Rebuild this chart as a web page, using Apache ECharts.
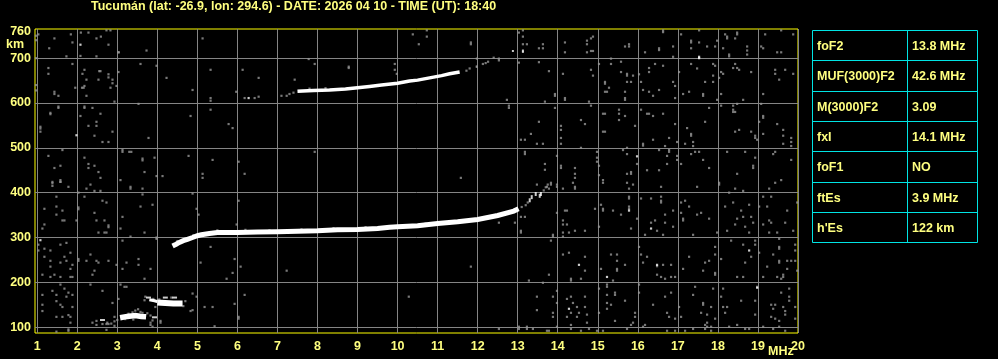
<!DOCTYPE html>
<html><head><meta charset="utf-8">
<script src="https://cdn.jsdelivr.net/npm/echarts@6/dist/echarts.min.js"></script>
<style>html,body{margin:0;padding:0;background:#000;}#c{width:998px;height:359px;}</style>
</head><body><div id="c"></div>
<script>
const titleText = 'Tucumán (lat: -26.9, lon: 294.6) - DATE: 2026 04 10 - TIME (UT): 18:40';
const freqLabels = [1,2,3,4,5,6,7,8,9,10,11,12,13,14,15,16,17,18,19,20];
const heightLabels = [100,200,300,400,500,600,700,760];
const heightGrid = [100,200,300,400,500,600,700];
const tableLabels = ['foF2','MUF(3000)F2','M(3000)F2','fxI','foF1','ftEs',"h'Es"];
const tableValues = ['13.8 MHz','42.6 MHz','3.09','14.1 MHz','NO','3.9 MHz','122 km'];

// F-layer trace (MHz, km)
const fTrace = [[4.38,281],[4.47,285],[4.55,289],[4.65,293],[4.75,296],[4.88,300],[5.0,304],[5.1,306],[5.3,309],[5.5,311],[6.0,311],[6.5,312],[7.0,313],[7.5,314],[8.0,315],[8.5,317],[9.0,318],[9.5,320],[9.8,323],[10.0,324],[10.5,326],[11.0,331],[11.5,335],[12.0,340],[12.5,349],[12.9,359],[13.02,364]];
const fTraceTip = [[13.3,383],[13.35,390],[13.45,397],[13.55,393],[13.58,397]];
// second hop trace
const f2Hop = [[7.5,626],[7.9,628],[8.3,629],[8.7,631],[9.0,634],[9.3,637],[9.6,640],[10.0,644],[10.3,649],[10.5,651],[10.8,656],[11.1,661],[11.3,665],[11.55,669]];
const f2HopTip = [[12.88,716],[13.13,717],[13.13,714]];
// sporadic E traces
const esLower = [[3.07,121],[3.25,124],[3.45,126],[3.6,124],[3.72,123]];
const esUpperLead = [[3.8,161],[3.93,159],[4.0,157]];
const esUpper = [[4.0,155],[4.2,154],[4.4,153],[4.63,153]];
const esDashes = [[3.78,166],[4.2,166],[4.43,166],[3.93,122],[2.63,116]];
const esFringe = [[3.38,133],[3.45,137],[3.52,140],[3.58,134],[3.28,130],[3.63,132],[3.75,131],[3.83,126],[3.88,115],[3.83,110],[2.75,110],[2.85,108],[2.93,113],[3.0,116],[3.68,160],[3.7,168],[3.9,163],[4.05,162],[4.35,166],[4.7,158],[4.65,147],[3.95,145],[3.2,118],[3.4,117]];
const traceFringe = [[4.5,292],[4.9,305],[5.5,316],[6.2,317],[6.8,316],[7.6,318],[8.4,321],[9.2,323],[10.7,331],[7.1,616],[7.23,616],[7.3,620],[7.4,623],[7.8,632],[8.2,633],[11.72,672],[11.8,677],[11.98,681],[12.13,687],[12.2,689],[12.26,692],[12.4,701],[12.53,695],[12.53,699],[13.1,368],[13.2,372],[13.25,378],[13.65,405],[13.7,412],[13.75,418]];
// scattered echoes (noise)
const noiseGray = [
[1.03,753],[1.43,744],[1.84,753],[2.09,757],[2.28,757],[2.48,744],[2.59,748],[2.73,762],[2.83,762],[1.88,735],[2.78,730],[1.3,722],[1.73,704],[2.08,705],[2.48,704],[3.02,713],[3.04,713],[3.73,717],[5.13,744],
[0.97,750],[0.97,740],[0.97,700],[0.97,640],[0.97,628],
[1.88,687],[1.28,678],[1.28,665],[2.18,674],[2.13,665],[2.55,671],[2.58,671],[2.78,664],[2.78,657],[2.23,652],[2.53,652],[2.88,652],[3.03,669],[2.88,644],[2.98,638],[2.83,634],[1.95,634],[2.12,634],[2.16,634],[2.18,638],[2.23,616],[1.43,625],[1.43,620],[1.53,616],[2.93,603],[3.58,687],[3.98,683],[4.23,656],[4.88,629],[5.33,674],[5.33,611],[5.33,605],[6.13,674],[5.97,625],[6.18,611],[6.43,611],[6.53,614],[6.53,656],[7.43,652],[7.78,698],[7.93,687],[8.78,681],[8.78,678],[9.93,687],[9.93,674],[9.98,665],[10.38,753],
[1.53,592],[1.53,589],[1.33,578],[1.33,575],[1.08,547],[1.08,543],[1.08,536],[2.08,571],[2.18,592],[2.18,589],[2.38,589],[2.58,576],[2.48,558],[2.48,549],[2.28,549],[2.43,527],[2.63,513],[2.78,513],[2.88,536],[3.53,598],[3.78,522],[4.83,571],[5.33,585],[5.78,553],[5.88,544],[7.93,491],
[1.28,482],[1.63,495],[1.43,455],[1.58,460],[1.38,424],[1.58,428],[1.58,424],[2.18,478],[2.28,464],[2.28,455],[2.43,460],[2.53,446],[2.58,433],[3.13,495],[3.13,491],[3.3,491],[3.35,491],[3.08,428],[3.63,476],[3.63,472],[3.68,446],[3.93,478],[3.98,437],[4.13,437],[4.78,482],[5.13,442],[5.13,433],[5.38,473],[6.03,469],[6.18,442],
[1.38,421],[1.38,415],[1.58,424],[1.78,413],[2.23,409],[2.33,418],[2.43,404],[2.58,404],[3.33,413],[3.33,409],[3.63,409],[2.03,400],
[1.48,391],[1.48,369],[1.63,360],[1.48,351],[1.18,364],[2.03,367],[2.03,363],[2.18,391],[2.43,355],[2.48,338],[2.63,382],[2.73,378],[2.68,338],[2.78,327],[2.78,323],[1.63,338],[1.68,338],[1.98,338],[1.13,320],[1.18,329],[2.53,311],[2.68,311],[2.73,311],[3.08,320],[3.13,346],[3.58,369],[3.63,396],[3.88,373],[3.68,311],[3.98,300],[4.88,398],[4.98,364],[5.03,351],[6.03,382],[5.98,329],[3.33,302],
[1.03,284],[1.03,271],[1.18,275],[1.18,257],[1.33,271],[1.33,248],[1.58,284],[1.58,244],[1.73,288],[1.73,248],[1.83,266],[1.83,230],[1.68,257],[1.88,239],[1.33,235],[1.33,212],[1.13,217],[2.03,252],[2.03,248],[2.23,248],[2.33,262],[2.48,248],[2.53,244],[2.78,248],[2.43,226],[2.38,217],[2.98,239],[3.13,230],[3.23,244],[3.53,252],[3.53,239],[3.83,230],[3.68,208],[3.13,293],[3.98,297],[5.08,244],[5.33,279],[5.88,221],[5.93,252],[6.08,235],[5.73,208],[7.23,226],[1.58,212],[1.83,212],[1.88,212],[1.43,217],
[1.13,172],[1.13,150],[1.13,136],[1.38,181],[1.48,172],[1.48,158],[1.58,195],[1.68,186],[1.78,177],[1.73,168],[1.88,172],[1.58,150],[1.63,145],[1.48,123],[1.63,123],[1.78,127],[1.83,123],[1.88,145],[1.83,110],[1.48,90],[1.78,92],[1.78,95],[2.33,195],[2.63,181],[2.88,154],[3.08,195],[3.18,190],[3.23,190],[3.03,163],[2.93,123],[2.38,110],[2.48,114],[2.48,105],[2.63,107],[2.73,107],[2.78,107],[2.73,94],[2.93,103],[3.83,105],[3.88,101],[4.08,114],[4.08,110],[4.88,175],[4.88,138],[4.98,168],[5.18,145],[5.38,145],[4.83,136],[6.03,123],[6.03,119],[6.18,172],[5.93,152],[5.43,102],[10.28,168],
[10.73,762],[10.73,748],[10.53,731],[11.83,735],[11.83,731],[13.03,757],[13.13,762],[13.13,748],[13.13,731],[13.23,731],[13.63,731],[13.53,722],[13.63,722],[14.18,735],[14.18,713],[14.73,739],[14.73,731],[14.83,744],[14.88,748],[14.73,713],[14.83,716],[14.88,716],[15.68,726],[15.78,731],[15.78,726],[15.33,699],[16.18,713],[16.53,722],[16.53,718],[16.63,762],[16.63,758],[16.88,726],[16.88,703],[17.08,753],[17.33,739],[17.33,735],[17.53,762],[17.53,735],[17.33,722],[17.73,726],[17.93,726],[17.98,739],[18.18,753],[18.23,748],[18.23,744],[18.48,757],[18.48,753],[18.43,744],[18.13,722],[18.28,708],[18.28,704],[18.73,726],[18.73,717],[18.73,708],[19.18,753],[19.08,726],[19.13,722],[19.48,713],[19.58,713],[19.58,762],[19.88,753],
[11.98,699],[11.98,681],[13.03,690],[13.53,691],[13.78,671],[14.13,665],[14.83,674],[14.88,661],[15.03,687],[15.18,647],[15.18,643],[15.28,634],[15.18,625],[15.23,625],[15.33,687],[15.58,692],[15.58,669],[15.73,665],[15.73,661],[15.88,661],[15.73,647],[15.83,647],[15.68,625],[15.68,611],[15.68,607],[16.03,664],[16.08,647],[16.28,678],[16.28,669],[16.43,687],[16.13,629],[16.28,625],[16.38,616],[16.53,629],[16.63,683],[16.88,647],[16.93,638],[16.93,611],[17.03,669],[17.13,620],[17.28,625],[17.33,687],[17.48,677],[17.63,620],[17.63,616],[17.68,647],[17.88,687],[17.93,683],[17.88,661],[17.88,647],[18.03,656],[18.08,669],[18.13,665],[17.98,607],[18.08,620],[18.38,678],[18.48,678],[18.53,674],[18.43,687],[18.63,607],[18.83,669],[19.13,620],[19.43,674],[19.43,665],[19.53,652],[19.68,674],[19.88,665],[12.73,607],[12.78,594],[12.78,589],[13.68,603],[13.93,620],[13.93,616],[14.18,611],[14.18,607],[14.78,603],
[13.93,589],[14.83,594],[15.13,576],[15.18,576],[15.53,585],[15.53,576],[15.53,562],[15.68,571],[16.08,585],[16.23,576],[16.28,576],[16.38,571],[16.63,576],[15.93,549],[16.93,553],[17.23,544],[17.33,531],[17.33,527],[17.68,558],[17.78,589],[18.08,594],[18.38,594],[18.38,585],[18.38,580],[18.43,580],[18.48,598],[19.08,598],[19.13,571],[19.13,567],[19.03,558],[19.48,553],[19.63,540],[19.13,531],[18.83,536],[18.93,527],[18.93,522],[18.98,518],[18.53,540],[18.43,536],[19.63,527],[19.83,522],[19.83,513],[19.83,504],[19.63,509],[14.08,549],[14.08,540],[14.58,562],[14.68,553],[14.08,522],[14.08,509],[13.53,558],[13.33,531],[13.08,518],[13.18,518],[13.48,509],[13.63,509],[15.13,536],[15.18,536],[16.13,509],[16.13,505],[16.38,518],[16.68,504],[16.78,522],[16.98,513],[17.18,509],[17.38,513],[17.38,504],
[13.18,491],[13.18,486],[13.68,464],[13.68,451],[13.98,482],[14.08,460],[14.08,455],[14.43,455],[14.43,442],[14.43,433],[14.58,500],[14.98,491],[14.98,478],[14.98,469],[15.03,460],[15.03,439],[15.13,428],[15.63,495],[15.73,500],[15.73,486],[15.98,464],[15.83,446],[15.83,442],[15.73,442],[16.23,450],[16.53,495],[16.53,450],[16.73,482],[16.73,464],[16.78,495],[16.78,491],[16.98,482],[16.98,473],[17.08,464],[17.33,486],[17.43,491],[17.53,491],[17.63,473],[17.78,455],[18.23,491],[18.48,442],[18.68,491],[18.93,478],[18.88,460],[18.88,455],[19.38,486],[19.43,491],[19.83,473],[19.58,428],[11.58,433],
[13.48,418],[13.73,413],[13.78,409],[13.83,418],[13.83,422],[13.98,418],[13.98,413],[14.13,409],[14.38,422],[14.43,413],[14.43,409],[15.13,422],[15.73,422],[15.78,409],[15.88,418],[16.58,413],[17.48,413],[18.03,422],[18.03,418],[18.43,409],[18.63,404],[19.28,409],[19.43,422],
[13.08,346],[13.18,346],[12.93,333],[12.53,333],[13.08,315],[13.08,311],[13.88,306],[13.88,302],[13.98,355],[14.13,338],[14.13,329],[14.23,329],[14.18,360],[14.23,360],[14.13,311],[14.13,302],[14.28,311],[14.43,315],[14.68,315],[14.93,364],[15.03,324],[15.08,373],[15.13,364],[15.13,360],[15.38,360],[15.78,391],[15.78,387],[15.78,369],[15.78,364],[15.58,351],[15.83,320],[15.98,342],[16.33,333],[16.43,338],[16.08,387],[16.33,387],[16.58,391],[16.58,382],[16.58,378],[16.68,351],[16.68,333],[16.88,360],[16.88,324],[16.18,306],[16.48,315],[16.63,306],[17.08,378],[17.08,355],[17.18,382],[17.13,342],[17.13,338],[17.28,369],[17.48,351],[17.58,355],[17.38,306],[17.78,342],[17.98,311],[18.28,400],[18.18,369],[18.38,378],[18.58,360],[18.48,342],[18.23,315],[18.43,329],[18.68,324],[18.78,373],[18.63,346],[18.83,346],[18.88,333],[18.78,311],[19.03,369],[19.23,369],[19.13,391],[19.33,391],[19.13,329],[19.28,338],[19.33,333],[19.28,311],[19.73,360],[19.68,333],[19.88,315],[19.98,378],[19.48,311],
[13.83,293],[14.13,262],[14.28,266],[14.68,257],[14.68,226],[14.58,208],[14.33,208],[14.33,204],[15.08,230],[15.33,262],[15.48,262],[15.48,248],[15.48,230],[15.48,226],[15.38,204],[15.68,239],[16.03,279],[16.08,262],[16.23,257],[16.13,244],[16.48,236],[16.63,239],[16.83,239],[16.48,217],[16.58,212],[16.68,208],[16.83,212],[16.93,212],[17.13,230],[17.28,257],[17.63,226],[17.68,244],[17.78,248],[17.93,279],[17.93,262],[17.93,221],[17.93,217],[18.08,252],[18.33,293],[18.48,212],[18.63,284],[18.63,212],[18.68,244],[18.83,257],[18.93,293],[18.93,284],[19.03,266],[19.23,235],[19.53,297],[19.53,279],[19.53,275],[19.53,248],[19.53,244],[19.73,248],[19.83,248],[19.93,248],[19.73,230],[19.63,217],[19.63,212],[19.58,208],[19.93,284],[19.93,271],[19.98,226],[19.48,212],[19.38,262],[19.13,212],[11.83,235],[13.28,204],[13.78,217],
[13.63,199],[13.98,181],[13.48,168],[13.48,138],[13.88,168],[13.88,132],[13.88,123],[13.98,154],[14.23,163],[14.33,168],[14.23,123],[14.33,132],[14.38,154],[14.48,145],[14.53,132],[14.48,123],[14.68,168],[14.68,145],[14.73,128],[14.73,110],[14.33,105],[15.03,186],[15.23,195],[15.23,190],[15.23,172],[15.23,154],[15.23,141],[15.43,177],[15.43,172],[15.33,150],[15.03,132],[15.43,114],[15.68,159],[15.93,132],[15.93,123],[15.88,110],[16.03,195],[16.03,177],[16.18,105],[16.38,150],[16.68,168],[16.83,177],[16.73,132],[16.78,123],[16.93,119],[17.03,145],[17.08,123],[17.38,172],[17.43,190],[17.58,132],[17.63,154],[17.63,150],[17.73,128],[17.73,110],[17.83,145],[17.93,119],[17.88,186],[18.13,186],[18.08,168],[18.13,145],[18.18,132],[18.58,159],[18.93,159],[18.93,128],[18.98,190],[19.33,150],[19.38,141],[19.43,150],[19.33,123],[19.43,119],[19.53,114],[19.63,145],[19.68,136],[19.68,128],[19.58,177],[19.78,186],[19.78,168],[19.78,159],[19.93,145],[19.93,119],[18.23,145],
[13.03,101],[13.23,101],[13.03,96],[13.23,96],[13.38,96],[13.73,92],[13.78,92],[13.98,101],[14.33,96],[14.58,92],[14.78,96],[14.98,92],[15.13,92],[15.73,96],[15.83,105],[16.13,101],[16.73,92],[16.93,92],[17.18,92],[17.38,96],[17.68,105],[17.68,96],[17.73,101],[17.83,101],[17.83,92],[18.28,101],[18.48,105],[18.68,96],[18.78,96],[19.38,96],[19.53,101],[19.68,92],[19.13,101],[12.53,96]
];
const noiseWhite = [[2.08,730],[1.98,528],[6.28,611],[1.08,294],[17.53,703],[17.53,700],[15.98,481],[15.78,360],[16.33,320],[14.53,239],[15.23,212],[16.48,239],[18.78,271],[18.98,188],[14.28,141]];

const GRAY = '#858585';
const DOT = '#969696';
const TXT = '#ffff80';
const FONT = 'Liberation Sans';

function scatter(data, color, size, z) {
  return { type: 'scatter', data: data, symbol: 'rect', symbolSize: size, silent: true, z: z,
    itemStyle: { color: color }, animation: false };
}
function trace(data, width, z) {
  return { type: 'line', data: data, symbol: 'none', smooth: false, silent: true, z: z,
    lineStyle: { color: '#ffffff', width: width, cap: 'butt', join: 'miter' }, animation: false };
}

// table graphics
const tX = 812.5, tY = 30.5, tW = 165, tColX = 907.5, tRowH = 30.3;
const tableGraphics = [];
tableGraphics.push({ type: 'rect', shape: { x: tX, y: tY, width: tW, height: Math.round(tRowH * tableLabels.length) },
  style: { fill: 'none', stroke: '#00e4e4', lineWidth: 1 } });
tableGraphics.push({ type: 'line', shape: { x1: tColX, y1: tY, x2: tColX, y2: tY + Math.round(tRowH * tableLabels.length) },
  style: { stroke: '#00e4e4', lineWidth: 1 } });
for (let i = 0; i < tableLabels.length; i++) {
  const y0 = tY + Math.round(i * tRowH);
  if (i > 0) tableGraphics.push({ type: 'line', shape: { x1: tX, y1: y0, x2: tX + tW, y2: y0 }, style: { stroke: '#00e4e4', lineWidth: 1 } });
  const cy = y0 + tRowH / 2 + 1;
  tableGraphics.push({ type: 'text', x: 817, y: cy, style: { text: tableLabels[i], fill: TXT, font: 'bold 12.5px ' + FONT, textVerticalAlign: 'middle' } });
  tableGraphics.push({ type: 'text', x: 912, y: cy, style: { text: tableValues[i], fill: TXT, font: 'bold 12.5px ' + FONT, textVerticalAlign: 'middle' } });
}

const chart = echarts.init(document.getElementById('c'), null, { renderer: 'canvas' });
chart.setOption({
  backgroundColor: '#000000',
  animation: false,
  grid: { left: 35, top: 29, width: 763, height: 304, show: true, borderColor: '#ffff00', borderWidth: 1, backgroundColor: '#000000' },
  xAxis: {
    type: 'value', min: 0.945, max: 20,
    axisLine: { show: false },
    axisTick: { show: false, customValues: freqLabels },
    axisLabel: { customValues: freqLabels, color: TXT, fontFamily: FONT, fontWeight: 'bold', fontSize: 12.5, margin: 7 },
    splitLine: { show: true, lineStyle: { color: GRAY, width: 1 } }
  },
  yAxis: {
    type: 'value', min: 87, max: 765,
    axisLine: { show: false },
    axisTick: { show: false, customValues: heightGrid },
    axisLabel: { customValues: heightLabels, color: TXT, fontFamily: FONT, fontWeight: 'bold', fontSize: 12.5, margin: 4 },
    splitLine: { show: true, lineStyle: { color: GRAY, width: 1 } }
  },
  graphic: [
    { type: 'text', x: 91, y: 7, style: { text: titleText, fill: TXT, font: 'bold 12.5px ' + FONT, textVerticalAlign: 'middle' } },
    { type: 'text', x: 6, y: 45, style: { text: 'km', fill: TXT, font: 'bold 12.5px ' + FONT, textVerticalAlign: 'middle' } },
    { type: 'text', x: 768, y: 352, style: { text: 'MHz', fill: TXT, font: 'bold 12.5px ' + FONT, textVerticalAlign: 'middle' } }
  ].concat(tableGraphics),
  series: [
    scatter(noiseGray, DOT, 2.2, 2),
    scatter(traceFringe, DOT, 2.2, 2),
    scatter(esFringe, DOT, 2.2, 2),
    scatter(noiseWhite, '#ffffff', 2.2, 3),
    trace(fTrace, 5, 4),
    scatter(fTraceTip, '#ffffff', [2, 4], 4),
    trace(f2Hop, 3.5, 4),
    scatter(f2HopTip, '#ffffff', [2, 2], 4),
    trace(esLower, 5.5, 4),
    trace(esUpperLead, 3, 4),
    trace(esUpper, 6, 4),
    scatter(esDashes, '#ffffff', [5, 2], 4)
  ]
});
</script>
</body></html>
